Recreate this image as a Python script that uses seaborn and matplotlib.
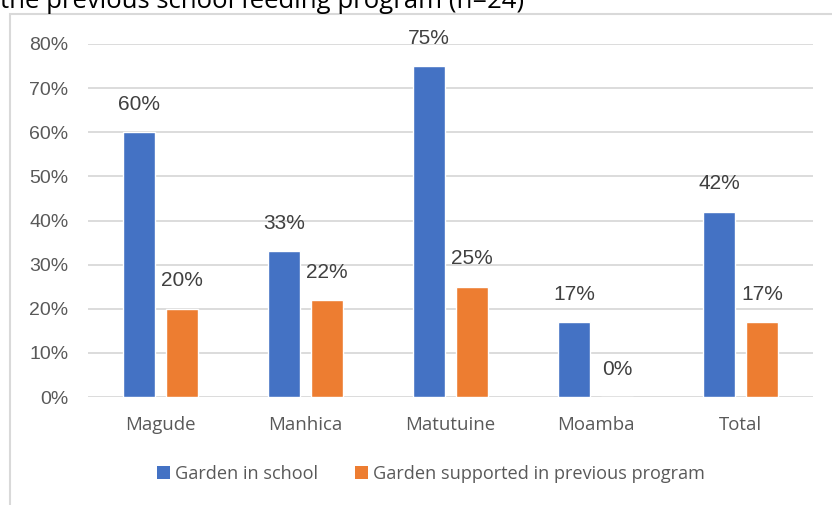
import matplotlib
matplotlib.use("Agg")
import matplotlib.pyplot as plt
from matplotlib.patches import Rectangle
import pandas as pd
import seaborn as sns

# District-level share of schools with a garden
districts = ["Magude", "Manhica", "Matutuine", "Moamba", "Total"]
garden_in_school = [60, 33, 75, 17, 42]
garden_prev_program = [20, 22, 25, 0, 17]
series_names = ["Garden in school", "Garden supported in previous program"]
y_ticks = [0, 10, 20, 30, 40, 50, 60, 70, 80]
title_text = "the previous school feeding program (n=24)"

colors = ["#4472C4", "#ED7D31"]

df = pd.DataFrame({
    "district": districts * 2,
    "series": [series_names[0]] * len(districts) + [series_names[1]] * len(districts),
    "value": garden_in_school + garden_prev_program,
})

sns.set_theme(style="white")
plt.rcParams["font.family"] = ["Liberation Sans", "DejaVu Sans"]

W, H = 832, 505
fig = plt.figure(figsize=(W / 100, H / 100), dpi=100)
ax = fig.add_axes([88 / W, 1 - 397 / H, (813 - 88) / W, (397 - 44) / H])

sns.barplot(data=df, x="district", y="value", hue="series", order=districts,
            hue_order=series_names, palette=colors, width=0.593, gap=0.245,
            saturation=1, legend=False, ax=ax, zorder=3)

ax.set_ylim(0, 80)
ax.set_xlim(-0.5, len(districts) - 0.5)
ax.set_yticks(y_ticks)
ax.set_yticklabels([f"{t}%" for t in y_ticks], fontsize=14, color="#595959")
ax.set_xticks(range(len(districts)))
ax.set_xticklabels(districts, fontsize=13.4, color="#595959",
                   family=["Open Sans", "DejaVu Sans"])
ax.tick_params(axis="y", length=0, pad=14)
ax.tick_params(axis="x", length=0, pad=14)
ax.set_xlabel("")
ax.set_ylabel("")
for s in ax.spines.values():
    s.set_visible(False)
ax.yaxis.grid(True, color="#d9d9d9", linewidth=1.3)
ax.set_axisbelow(True)

# value labels above each bar
for cont, vals in zip(ax.containers, [garden_in_school, garden_prev_program]):
    for bar, v in zip(cont.patches, vals):
        ax.annotate(f"{v}%", (bar.get_x() + bar.get_width() / 2, v),
                    xytext=(0, 20), textcoords="offset points",
                    ha="center", va="center", fontsize=15, color="#404040")

# legend below the plot
handles = [Rectangle((0, 0), 1, 1, facecolor=c, edgecolor="none") for c in colors]
fig.legend(handles, series_names, loc="center", bbox_to_anchor=(431 / W, 1 - 474 / H),
           ncol=2, frameon=False, handlelength=0.7, handleheight=0.7,
           handletextpad=0.3, columnspacing=2.0,
           prop={"family": ["Open Sans", "DejaVu Sans"], "size": 13.1},
           labelcolor="#595959")

# chart frame
fig.add_artist(Rectangle((10 / W, -0.1), 1.5, 1.1 - 14 / H, transform=fig.transFigure,
                         fill=False, edgecolor="#d9d9d9", linewidth=1.5))

fig.text(0.0, 1 - 8 / H, title_text, ha="left", va="baseline", fontsize=18.5,
         color="black", family=["Open Sans", "DejaVu Sans"])

fig.savefig("out.png", dpi=100)
